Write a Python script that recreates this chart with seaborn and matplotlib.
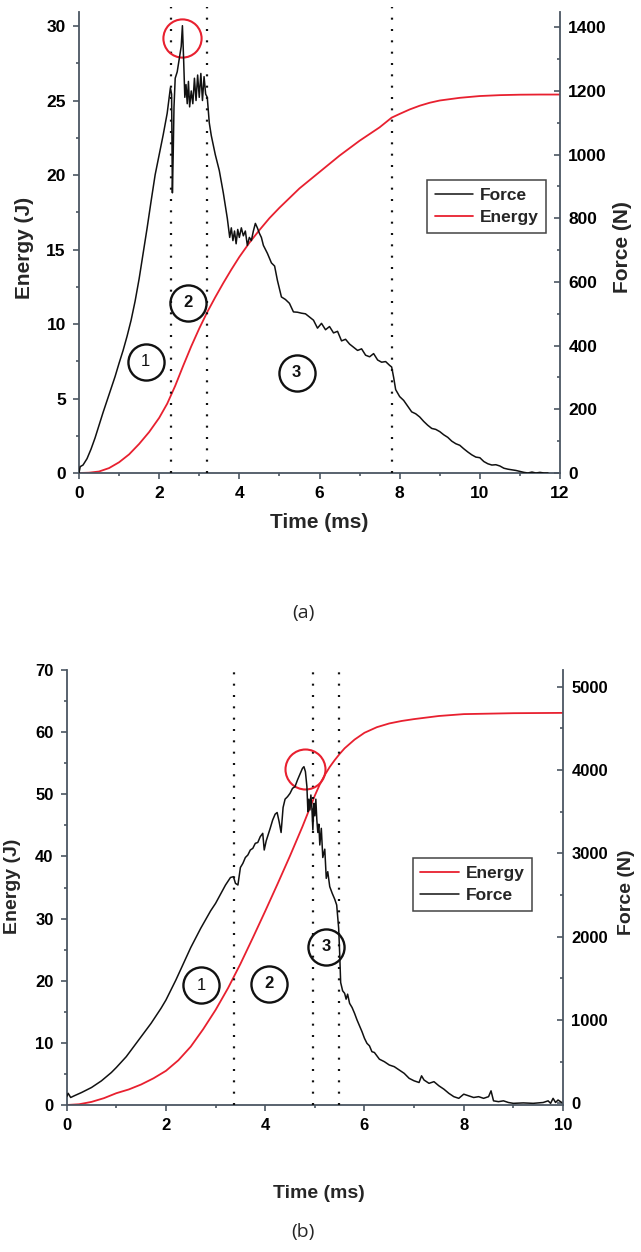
import numpy as np
import pandas as pd
import matplotlib
matplotlib.use('Agg')
import matplotlib.pyplot as plt
from matplotlib.ticker import AutoMinorLocator, MultipleLocator
import seaborn as sns

# ---------------- data ----------------
# Panel (a)
a_force_t = [0.0, 0.03, 0.1, 0.2, 0.3, 0.4, 0.5, 0.6, 0.7, 0.8, 0.9, 1.0, 1.1, 1.2, 1.3, 1.4,
             1.5, 1.6, 1.7, 1.8, 1.9, 2.0, 2.1, 2.2, 2.28, 2.31, 2.33, 2.35, 2.37, 2.4, 2.45,
             2.5, 2.55, 2.58, 2.61, 2.64, 2.67, 2.7, 2.73, 2.76, 2.8, 2.84, 2.88, 2.92, 2.96,
             3.0, 3.04, 3.08, 3.12, 3.16, 3.2, 3.25, 3.3, 3.4, 3.5, 3.6, 3.7, 3.76, 3.8, 3.84,
             3.88, 3.92, 3.96, 4.0, 4.05, 4.1, 4.15, 4.2, 4.25, 4.3, 4.35, 4.4, 4.45, 4.5, 4.55,
             4.6, 4.7, 4.8, 4.88, 4.95, 5.05, 5.15, 5.25, 5.35, 5.45, 5.55, 5.65, 5.75, 5.85,
             5.95, 6.05, 6.15, 6.25, 6.35, 6.45, 6.55, 6.65, 6.75, 6.85, 6.95, 7.05, 7.15, 7.25,
             7.35, 7.45, 7.55, 7.65, 7.75, 7.8, 7.85, 7.9, 8.0, 8.1, 8.2, 8.3, 8.4, 8.5, 8.6,
             8.7, 8.8, 8.9, 9.0, 9.1, 9.2, 9.3, 9.4, 9.5, 9.6, 9.7, 9.8, 9.9, 10.0, 10.1, 10.2,
             10.3, 10.4, 10.5, 10.6, 10.7, 10.8, 10.9, 11.0, 11.1, 11.2, 11.3, 11.4, 11.5, 11.6,
             11.7]
a_force_n = [0, 20, 25, 45, 75, 110, 150, 190, 228, 265, 303, 345, 385, 430, 480, 540,
             610, 690, 770, 855, 937, 1000, 1062, 1130, 1210, 1190, 880, 1000, 1150, 1240, 1260,
             1300, 1340, 1405, 1300, 1180, 1220, 1160, 1230, 1150, 1200, 1160, 1240, 1170, 1250,
             1180, 1255, 1170, 1245, 1190, 1180, 1100, 1060, 1000, 950, 880, 800, 740, 770, 730,
             760, 720, 765, 740, 770, 745, 760, 715, 740, 730, 760, 784, 770, 753, 740,
             715, 690, 660, 650, 605, 553, 545, 533, 506, 505, 502, 500, 490, 480,
             455, 470, 450, 460, 440, 445, 415, 420, 405, 395, 385, 390, 370, 365,
             375, 355, 348, 350, 338, 333, 300, 262, 240, 228, 210, 192, 186, 176, 162,
             150, 140, 137, 130, 120, 112, 100, 92, 87, 76, 66, 57, 50, 48, 36, 29,
             25, 26, 22, 15, 12, 10, 8, 5, 2, 0, 3, 0, 2, 0,
             0]
a_energy_t = [0.0, 0.25, 0.5, 0.75, 1.0, 1.25, 1.5, 1.75, 2.0, 2.2, 2.4, 2.6, 2.8, 3.0, 3.2,
              3.4, 3.6, 3.8, 4.0, 4.25, 4.5, 4.75, 5.0, 5.25, 5.5, 5.75, 6.0, 6.5, 7.0, 7.5,
              7.8, 8.0, 8.25, 8.5, 8.75, 9.0, 9.5, 10.0, 10.5, 11.0, 11.5, 12.0]
a_energy_j = [0.0, 0.02, 0.1, 0.33, 0.72, 1.25, 1.95, 2.75, 3.7, 4.65, 5.85, 7.2, 8.5, 9.7, 10.8,
              11.8, 12.75, 13.65, 14.5, 15.45, 16.3, 17.1, 17.8, 18.45, 19.1, 19.65, 20.2, 21.3, 22.3, 23.2,
              23.85, 24.1, 24.4, 24.65, 24.85, 25.0, 25.18, 25.3, 25.36, 25.39, 25.4, 25.4]
a_phase_t = [2.3, 3.2, 7.8]
a_label_x = [1.66, 2.71, 5.43]
a_label_y = [7.45, 11.44, 6.72]
a_label_txt = ['1', '2', '3']
a_peak = (2.57, 29.2)

# Panel (b)
b_force_t = [0.0, 0.03, 0.08, 0.15, 0.3, 0.5, 0.7, 0.9, 1.0, 1.2, 1.4, 1.5, 1.7, 1.9, 2.0, 2.2,
             2.4, 2.5, 2.7, 2.9, 3.0, 3.2, 3.3, 3.36, 3.4, 3.45, 3.5, 3.55, 3.6, 3.65, 3.7, 3.75,
             3.8, 3.85, 3.9, 3.95, 3.98, 4.02, 4.1, 4.15, 4.2, 4.24, 4.28, 4.32, 4.36, 4.4, 4.45,
             4.5, 4.55, 4.6, 4.65, 4.7, 4.75, 4.78, 4.81, 4.84, 4.86, 4.88, 4.9, 4.92, 4.94, 4.96,
             4.98, 5.0, 5.02, 5.04, 5.06, 5.08, 5.1, 5.13, 5.16, 5.2, 5.23, 5.26, 5.3, 5.35, 5.4,
             5.44, 5.48, 5.5, 5.52, 5.56, 5.6, 5.63, 5.66, 5.7, 5.75, 5.8, 5.85, 5.9, 5.95, 6.0,
             6.05, 6.1, 6.15, 6.2, 6.3, 6.4, 6.5, 6.6, 6.7, 6.8, 6.9, 7.0, 7.1, 7.15, 7.2, 7.3,
             7.4, 7.5, 7.6, 7.7, 7.8, 7.9, 8.0, 8.1, 8.2, 8.3, 8.4, 8.5, 8.55, 8.6, 8.7, 8.8, 8.9,
             9.0, 9.2, 9.4, 9.6, 9.7, 9.75, 9.8, 9.85, 9.9, 10.0]
b_force_n = [80, 120, 70, 90, 130, 190, 270, 370, 430, 560, 720, 800, 960, 1140, 1240, 1480,
             1740, 1870, 2100, 2310, 2400, 2620, 2710, 2720, 2640, 2620, 2830, 2880, 2950, 2980, 3040, 3060,
             3120, 3130, 3200, 3240, 3040, 3150, 3300, 3400, 3470, 3490, 3380, 3250, 3550, 3650, 3680,
             3720, 3780, 3800, 3880, 3950, 4020, 4040, 3980, 3800, 3500, 3650, 3520, 3700, 3550, 3280,
             3600, 3450, 3650, 3400, 3250, 3350, 3100, 3300, 2950, 3050, 2700, 2780, 2600, 2520, 2450,
             2380, 2100, 1800, 1450, 1350, 1320, 1250, 1310, 1200, 1150, 1080, 1000, 930, 860, 780,
             720, 690, 620, 610, 530, 500, 460, 440, 400, 360, 300, 270, 250, 330, 280, 240,
             260, 210, 170, 120, 80, 60, 110, 90, 70, 80, 60, 80, 150, 30, 20, 30, 10,
             0, 5, 0, 10, 30, 0, 60, 10, 40, 0]
b_energy_t = [0.0, 0.25, 0.5, 0.75, 1.0, 1.25, 1.5, 1.75, 2.0, 2.25, 2.5, 2.75, 3.0, 3.25, 3.5,
              3.75, 4.0, 4.25, 4.5, 4.75, 4.9, 5.0, 5.1, 5.2, 5.3, 5.4, 5.5, 5.6, 5.7, 5.8,
              6.0, 6.25, 6.5, 6.75, 7.0, 7.5, 8.0, 9.0, 10.0]
b_energy_j = [0.0, 0.12, 0.5, 1.1, 1.9, 2.5, 3.3, 4.3, 5.5, 7.2, 9.4, 12.2, 15.3, 18.8, 22.7,
              26.9, 31.2, 35.6, 40.1, 44.8, 47.8, 49.8, 51.6, 53.1, 54.4, 55.5, 56.5, 57.4, 58.1, 58.8,
              59.9, 60.8, 61.4, 61.8, 62.1, 62.6, 62.9, 63.05, 63.1]
b_phase_t = [3.37, 4.97, 5.49]
b_label_x = [2.71, 4.07, 5.23]
b_label_y = [19.3, 19.5, 25.5]
b_label_txt = ['1', '2', '3']
b_peak = (4.8, 54.1)

# ---------------- style ----------------
sns.set_theme(style='white')
plt.rcParams['font.family'] = ['Liberation Sans', 'DejaVu Sans']
plt.rcParams['font.weight'] = 'bold'
plt.rcParams['axes.labelweight'] = 'bold'

RED = '#e8202f'
BLACK = '#111111'
SPINE = '#4b5662'

W, H = 641, 1252
fig = plt.figure(figsize=(W / 100, H / 100), dpi=100)
fig.patch.set_facecolor('white')


def axes_px(l, t, r, b):
    return fig.add_axes([l / W, 1 - b / H, (r - l) / W, (b - t) / H])


def style_axes(ax, axr, fs):
    for a in (ax, axr):
        a.set_facecolor('none')
        a.spines['top'].set_visible(False)
        for s in ('left', 'right', 'bottom'):
            a.spines[s].set_color(SPINE)
            a.spines[s].set_linewidth(1.3)
        a.grid(False)
    ax.spines['right'].set_visible(False)
    axr.spines['left'].set_visible(False)
    axr.spines['bottom'].set_visible(False)
    ax.tick_params(axis='both', which='major', direction='out', length=4.5, width=1.2,
                   color=SPINE, labelsize=fs, pad=5, labelcolor='black')
    ax.tick_params(axis='both', which='minor', direction='out', length=2.5, width=1.2, color=SPINE)
    ax.tick_params(axis='y', left=True, right=False)
    ax.tick_params(axis='x', bottom=True, top=False)
    ax.tick_params(axis='both', which='minor', left=True, bottom=True, right=False, top=False)
    axr.tick_params(axis='y', which='major', direction='in', length=4.5, width=1.2,
                    color=SPINE, labelsize=fs, pad=6, right=True, left=False, labelcolor='black')
    axr.tick_params(axis='y', which='minor', direction='in', length=2.5, width=1.2,
                    color=SPINE, right=True, left=False)
    ax.xaxis.set_minor_locator(AutoMinorLocator(2))
    ax.yaxis.set_minor_locator(AutoMinorLocator(2))
    axr.yaxis.set_minor_locator(AutoMinorLocator(2))
    for lab in ax.get_xticklabels() + ax.get_yticklabels() + axr.get_yticklabels():
        lab.set_fontweight('bold')


def phase_marks(ax, xs, ys, txts, ms, fs):
    ax.plot(xs, ys, linestyle='none', marker='o', ms=ms, mfc='none', mec=BLACK, mew=1.7,
            zorder=5, clip_on=False)
    for x, y, t in zip(xs, ys, txts):
        ax.text(x, y, t, ha='center', va='center', fontsize=fs,
                fontweight='normal' if t == '1' else 'bold', color=BLACK, zorder=6)


LEG_KW = dict(loc='upper left', borderaxespad=0, frameon=True, fancybox=False,
              edgecolor='#444444', framealpha=1, prop=dict(weight='bold', size=12.5),
              handlelength=2.2, borderpad=0.45, labelspacing=0.4, handletextpad=0.4)

# ================= Panel (a) =================
ax1 = axes_px(79, 12, 560, 473)
ax1r = ax1.twinx()

dfa_e = pd.DataFrame({'t': a_energy_t, 'E': a_energy_j})
dfa_f = pd.DataFrame({'t': a_force_t, 'F': a_force_n})
sns.lineplot(data=dfa_e, x='t', y='E', ax=ax1, color=RED, lw=1.3, estimator=None, sort=False)
sns.lineplot(data=dfa_f, x='t', y='F', ax=ax1r, color=BLACK, lw=1.1, estimator=None, sort=False)
line_e_a = ax1.lines[-1]
line_f_a = ax1r.lines[-1]

ax1.set_xlim(0, 12)
ax1.set_ylim(0, 30.94)
ax1r.set_ylim(0, 1448)
ax1.xaxis.set_major_locator(MultipleLocator(2))
ax1.yaxis.set_major_locator(MultipleLocator(5))
ax1r.yaxis.set_major_locator(MultipleLocator(200))

ax1.vlines(a_phase_t, 0, 31.28, colors=BLACK, linestyles=(0, (0.9, 4.2)), lw=1.6, clip_on=False,
           zorder=3)
phase_marks(ax1, a_label_x, a_label_y, a_label_txt, ms=26, fs=12)
ax1.plot([a_peak[0]], [a_peak[1]], linestyle='none', marker='o', ms=27.5, mfc='none', mec=RED,
         mew=1.5, zorder=6, clip_on=False)

style_axes(ax1, ax1r, 12.5)
ax1.set_xlabel('Time (ms)', fontsize=15, fontweight='bold', va='center')
ax1.xaxis.set_label_coords(0.5, (473 - 523) / 461)
ax1.set_ylabel('Energy (J)', fontsize=15, fontweight='bold', va='center', ha='center')
ax1.yaxis.set_label_coords((24.5 - 79) / 481, 0.488)
ax1r.set_ylabel('Force (N)', fontsize=15, fontweight='bold', va='center', ha='center', rotation=90)
ax1r.yaxis.set_label_coords((622 - 79) / 481, 0.490)

leg = ax1r.legend([line_f_a, line_e_a], ['Force', 'Energy'],
                  bbox_to_anchor=(0.723, 0.6356), **LEG_KW)
leg.get_frame().set_linewidth(1.1)

# ================= Panel (b) =================
ax2 = axes_px(66.7, 670, 563, 1105)
ax2r = ax2.twinx()

dfb_e = pd.DataFrame({'t': b_energy_t, 'E': b_energy_j})
dfb_f = pd.DataFrame({'t': b_force_t, 'F': b_force_n})
sns.lineplot(data=dfb_e, x='t', y='E', ax=ax2, color=RED, lw=1.3, estimator=None, sort=False)
sns.lineplot(data=dfb_f, x='t', y='F', ax=ax2r, color=BLACK, lw=1.1, estimator=None, sort=False)
line_e_b = ax2.lines[-1]
line_f_b = ax2r.lines[-1]

ax2.set_xlim(0, 10)
ax2.set_ylim(0, 70)
ax2r.set_ylim(-20, 5200)
ax2.xaxis.set_major_locator(MultipleLocator(2))
ax2.yaxis.set_major_locator(MultipleLocator(10))
ax2r.yaxis.set_major_locator(MultipleLocator(1000))

ax2.vlines(b_phase_t, 0, 71.1, colors=BLACK, linestyles=(0, (0.9, 4.2)), lw=1.6, clip_on=False,
           zorder=3)
phase_marks(ax2, b_label_x, b_label_y, b_label_txt, ms=26, fs=12)
ax2.plot([b_peak[0]], [b_peak[1]], linestyle='none', marker='o', ms=28.8, mfc='none', mec=RED,
         mew=1.5, zorder=6, clip_on=False)

style_axes(ax2, ax2r, 12)
ax2.set_xlabel('Time (ms)', fontsize=14, fontweight='bold', va='center')
ax2.xaxis.set_label_coords(0.508, (1105 - 1194) / 435)
ax2.set_ylabel('Energy (J)', fontsize=14, fontweight='bold', va='center', ha='center')
ax2.yaxis.set_label_coords((12.5 - 66.7) / 496.3, 0.502)
ax2r.set_ylabel('Force (N)', fontsize=14, fontweight='bold', va='center', ha='center', rotation=90)
ax2r.yaxis.set_label_coords((626.7 - 66.7) / 496.3, 0.490)

leg2 = ax2r.legend([line_e_b, line_f_b], ['Energy', 'Force'],
                   bbox_to_anchor=(0.697, 0.568), **LEG_KW)
leg2.get_frame().set_linewidth(1.1)

# panel captions
fig.text(303 / W, 1 - 612.7 / H, '(a)', ha='center', va='center', fontsize=14,
         fontweight='normal', family=['Open Sans', 'DejaVu Sans'])
fig.text(303 / W, 1 - 1232 / H, '(b)', ha='center', va='center', fontsize=14,
         fontweight='normal', family=['Open Sans', 'DejaVu Sans'])

fig.savefig('out.png', dpi=100, facecolor='white')
